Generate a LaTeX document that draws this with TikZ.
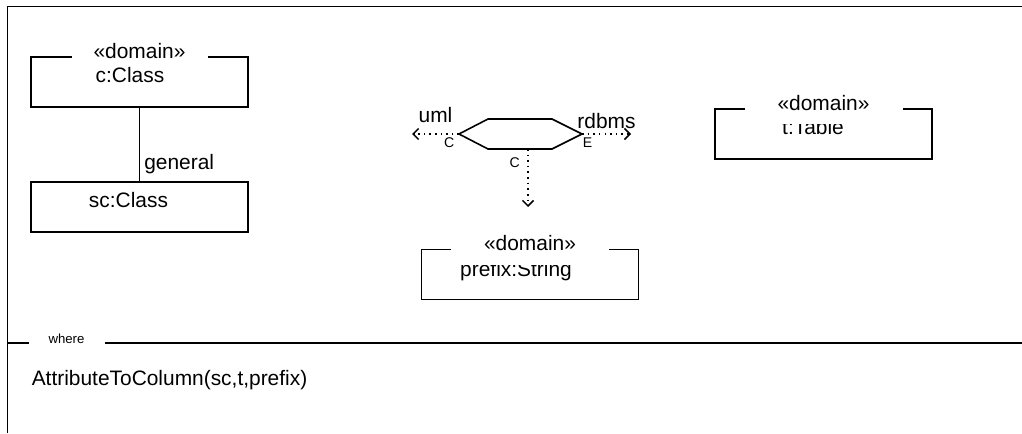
\documentclass[tikz,border=0pt]{standalone}
\usepackage{fontspec}
\setmainfont{Liberation Sans}
\usetikzlibrary{arrows.meta, positioning, calc}

\begin{document}
\begin{tikzpicture}[
  line width=0.9pt,
  objbox/.style={rectangle, draw=black, minimum width=4.34cm,
    minimum height=1.0cm, inner sep=0pt},
  objname/.style={anchor=base, inner sep=0pt,
    font=\fontsize{11.9}{13}\selectfont},
  stereo/.style={rectangle, anchor=base, fill=white, inner sep=0pt,
    text height=0.45cm, font=\fontsize{11.9}{13}\selectfont},
  lbl/.style={inner sep=0pt, font=\fontsize{11.9}{13}\selectfont},
  endlbl/.style={inner sep=0pt, font=\fontsize{8}{9}\selectfont},
  tag/.style={fill=white, inner sep=0pt, minimum width=1.52cm,
    minimum height=0.4cm, font=\fontsize{7.5}{9}\selectfont},
  dep/.style={-{Straight Barb[length=1.1mm, width=2.2mm]},
    dash pattern=on 0.9pt off 2.3pt},
]
\useasboundingbox (0,0) rectangle (20.44,-8.66);
% frame
\coordinate (frameBL) at (0.15,-8.66);
\coordinate (frameTL) at (0.15,-0.13);
\coordinate (frameTR) at (20.44,-0.13);
\draw (frameBL) -- (frameTL) -- (frameTR);
\coordinate (sepL) at (0.15,-6.86);
\coordinate (sepR) at (20.44,-6.86);
\draw (sepL) -- (sepR);
\node[tag] (where) at (1.33,-6.77) {where};
\node[lbl, anchor=west] (wherebody) at (0.62,-7.60)
  {AttributeToColumn(sc,t,prefix)};

% objects
\node[objbox] (cclass)  at (2.79,-1.64) {};
\node[objbox] (scclass) at (2.79,-4.14) {};
\node[objbox] (ttable)  at (16.47,-2.68) {};
\node[objbox] (pstring) at (10.60,-5.49) {};
\node[objname] (cclassName)  at ($(cclass.north)+(-0.19,-0.52)$)  {c:Class};
\node[objname] (scclassName) at ($(scclass.north)+(-0.22,-0.52)$) {sc:Class};
\node[objname] (ttableName)  at ($(ttable.north)+(-0.21,-0.52)$)  {t:Table};
\node[objname] (pstringName) at ($(pstring.north)+(-0.28,-0.56)$) {prefix:String};
\foreach \b/\w/\d in {cclass/2.72/0.10, ttable/3.16/0.28, pstring/3.16/0.28}
  \node[stereo, minimum width=\w cm, text depth=\d cm] (\b-st)
    at ($(\b.north)+(0,-0.04)$) {«domain»};

\draw (cclass) -- node[lbl, right=0.08cm, pos=0.77] (gen) {general} (scclass);

% relation
\coordinate (rel) at (10.41,-2.68);
\draw (rel) ++(-1.23,0) coordinate (relW) -- ++(0.58,0.30)
  -- ++(1.28,0) -- ++(0.6,-0.30) coordinate (relE)
  -- ++(-0.6,-0.30) -- ++(-1.28,0) -- cycle;
\coordinate (relS)      at (10.56,-2.98);
\coordinate (umlEnd)    at (8.24,-2.68);
\coordinate (rdbmsEnd)  at (12.62,-2.68);
\coordinate (whenEnd)   at (10.56,-4.14);
\draw[dep] (relW) -- node[lbl, above=0.22cm] (uml) {uml}
  node[endlbl, pos=0, below left=0.06cm and 0.08cm] (umlKind) {C} (umlEnd);
\draw[dep] (relE) -- node[lbl, above=0.09cm] (rdbms) {rdbms}
  node[endlbl, pos=0, below right=0.06cm and 0cm] (rdbmsKind) {E} (rdbmsEnd);
\draw[dep] (relS) --
  node[endlbl, pos=0, below left=0.15cm and 0.15cm] (whenKind) {C} (whenEnd);
\end{tikzpicture}
\end{document}
